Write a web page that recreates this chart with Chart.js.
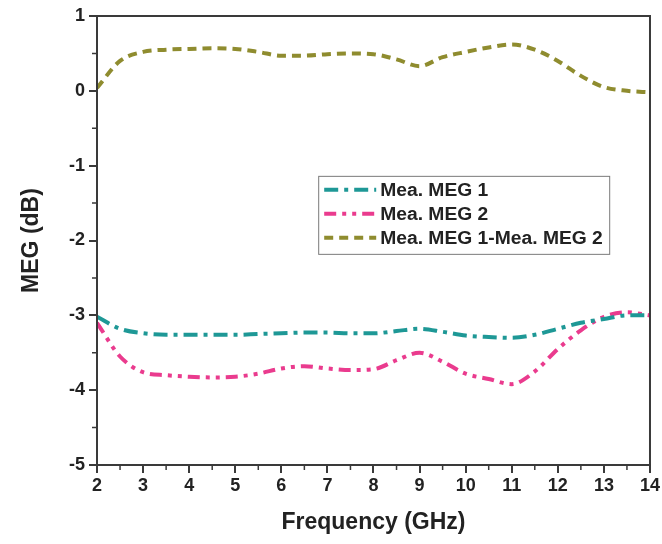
<!DOCTYPE html>
<html>
<head>
<meta charset="utf-8">
<script src="https://cdn.jsdelivr.net/npm/chart.js@4/dist/chart.umd.min.js"></script>
<style>
  html, body { margin: 0; padding: 0; background: #fff; }
  #wrap { width: 662px; height: 544px; position: relative; }
</style>
</head>
<body>
<div id="wrap"><canvas id="c" width="662" height="544"></canvas></div>
<script>
// Frequency (GHz)
const freq = [2, 2.5, 3, 3.5, 4, 4.5, 5, 5.5, 6, 6.5, 7, 7.5, 8, 8.5, 9, 9.5, 10, 10.5, 11, 11.5, 12, 12.5, 13, 13.5, 14];
// Mea. MEG 1 (dB)
const meg1 = [-3.02, -3.18, -3.24, -3.26, -3.26, -3.26, -3.26, -3.25, -3.24, -3.23, -3.23, -3.24, -3.24, -3.21, -3.18, -3.22, -3.27, -3.29, -3.30, -3.26, -3.18, -3.10, -3.05, -3.00, -3.00];
// Mea. MEG 2 (dB)
const meg2 = [-3.10, -3.55, -3.76, -3.80, -3.82, -3.83, -3.82, -3.78, -3.71, -3.68, -3.71, -3.73, -3.72, -3.60, -3.50, -3.62, -3.78, -3.85, -3.92, -3.75, -3.45, -3.20, -3.02, -2.96, -3.00];
// Mea. MEG 1 - Mea. MEG 2 (dB)
const diff = [0.04, 0.40, 0.52, 0.55, 0.56, 0.57, 0.56, 0.52, 0.47, 0.47, 0.49, 0.50, 0.49, 0.42, 0.33, 0.45, 0.52, 0.58, 0.62, 0.55, 0.40, 0.20, 0.05, 0.00, -0.02];
const seriesLabels = ['Mea. MEG 1', 'Mea. MEG 2', 'Mea. MEG 1-Mea. MEG 2'];
const xTicks = [2, 3, 4, 5, 6, 7, 8, 9, 10, 11, 12, 13, 14];
const yTicks = [-5, -4, -3, -2, -1, 0, 1];

const AXIS = '#3a3a3a';
const colors = ['#1e9896', '#ea3b8e', '#8f8c2f'];
const dashes = [[14, 6, 4, 6], [12, 6, 4, 6, 4, 6], [9, 6]];
const FONT = '"Liberation Sans", Arial, sans-serif';

function pts(ys) { return freq.map((x, i) => ({ x: x, y: ys[i] })); }

const frame = {
  id: 'frame',
  afterDraw(chart) {
    const ctx = chart.ctx, a = chart.chartArea;
    const xs = chart.scales.x, ys = chart.scales.y;
    ctx.save();
    ctx.strokeStyle = AXIS;
    ctx.lineWidth = 2;
    ctx.strokeRect(a.left, a.top, a.right - a.left, a.bottom - a.top);
    // minor ticks
    ctx.lineWidth = 1.5;
    ctx.beginPath();
    for (let v = 2.5; v < 14; v += 1) {
      const px = xs.getPixelForValue(v);
      ctx.moveTo(px, a.bottom); ctx.lineTo(px, a.bottom + 5);
    }
    for (let v = -4.5; v < 1; v += 1) {
      const py = ys.getPixelForValue(v);
      ctx.moveTo(a.left, py); ctx.lineTo(a.left - 5, py);
    }
    ctx.stroke();
    // legend
    const lx = a.left + (a.right - a.left) * 0.4;
    const ly = a.top + (a.bottom - a.top) * 0.356;
    const lw = 291, lh = 78;
    ctx.fillStyle = '#fff';
    ctx.fillRect(lx, ly, lw, lh);
    ctx.strokeStyle = '#7a7a7a';
    ctx.lineWidth = 1;
    ctx.strokeRect(lx + 0.5, ly + 0.5, lw, lh);
    ctx.font = 'bold 18px ' + FONT;
    ctx.textBaseline = 'middle';
    chart.data.datasets.forEach((ds, i) => {
      const yy = ly + 14 + i * 24;
      ctx.strokeStyle = ds.borderColor;
      ctx.lineWidth = 4;
      ctx.setLineDash(ds.borderDash);
      ctx.beginPath();
      ctx.moveTo(lx + 6, yy); ctx.lineTo(lx + 58, yy);
      ctx.stroke();
      ctx.setLineDash([]);
      ctx.fillStyle = '#222';
      ctx.save();
      ctx.translate(lx + 62, yy + 1);
      ctx.scale(1.07, 1);
      ctx.fillText(ds.label, 0, 0);
      ctx.restore();
    });
    ctx.restore();
  }
};

new Chart(document.getElementById('c'), {
  type: 'line',
  data: {
    datasets: [meg1, meg2, diff].map((d, i) => ({
      label: seriesLabels[i],
      data: pts(d),
      borderColor: colors[i],
      backgroundColor: colors[i],
      borderWidth: 4,
      borderDash: dashes[i],
      pointRadius: 0,
      tension: 0.4,
      cubicInterpolationMode: 'monotone',
      fill: false
    }))
  },
  options: {
    responsive: false,
    animation: false,
    layout: { padding: { left: 8, right: 12, top: 16, bottom: 4 } },
    plugins: { legend: { display: false }, tooltip: { enabled: false } },
    scales: {
      x: {
        type: 'linear', min: 2, max: 14,
        afterBuildTicks: s => { s.ticks = xTicks.map(v => ({ value: v })); },
        afterFit: s => { s.height = 75; },
        ticks: { color: '#222', font: { family: FONT, size: 18, weight: 'bold' }, padding: 2, maxRotation: 0, autoSkip: false },
        grid: { drawOnChartArea: false, tickLength: 8, color: AXIS, lineWidth: 2 },
        border: { color: AXIS, width: 2 },
        title: { display: true, text: 'Frequency (GHz)', color: '#222', font: { family: FONT, size: 23, weight: 'bold' }, padding: { top: 6 } }
      },
      y: {
        min: -5, max: 1,
        afterBuildTicks: s => { s.ticks = yTicks.map(v => ({ value: v })); },
        afterFit: s => { s.width = 89; },
        ticks: { color: '#222', font: { family: FONT, size: 18, weight: 'bold' }, padding: 4, autoSkip: false },
        grid: { drawOnChartArea: false, tickLength: 8, color: AXIS, lineWidth: 2 },
        border: { color: AXIS, width: 2 },
        title: { display: true, text: 'MEG (dB)', color: '#222', font: { family: FONT, size: 23, weight: 'bold' }, padding: { top: 10, bottom: 2 } }
      }
    }
  },
  plugins: [frame]
});
</script>
</body>
</html>
